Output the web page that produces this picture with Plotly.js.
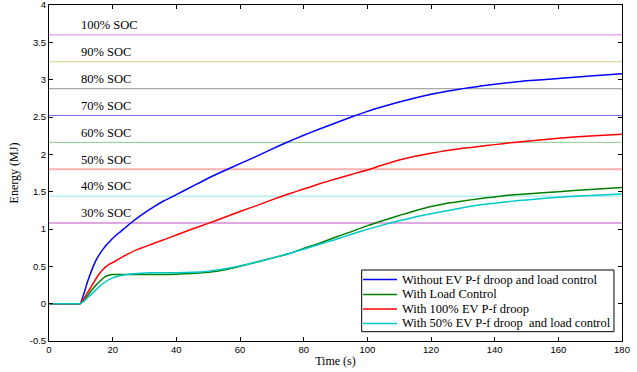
<!DOCTYPE html>
<html><head><meta charset="utf-8">
<script src="https://cdn.plot.ly/plotly-3.0.1.min.js"></script>
<style>body{margin:0;background:#fff}#c{width:637px;height:372px}</style>
</head><body><div id="c"></div>
<script>
const socLabels = ["100% SOC","90% SOC","80% SOC","70% SOC","60% SOC","50% SOC","40% SOC","30% SOC"];
const socLevels = [3.6,3.24,2.88,2.52,2.16,1.8,1.44,1.08];
const socColors = ["#e080e8","#d8d080","#a8a8a8","#7070f0","#90c890","#ffb0b0","#90e8e8","#e0a8e0"];
const socWidths = [1,1,1.2,1,1,2,1,2];

const seriesNames = ["Without EV P-f droop and load control","With Load Control","With 100% EV P-f droop","With 50% EV P-f droop  and load control"];
const seriesColors = ["#0000ff","#008000","#ff0000","#00c8c8"];

const tBlue = [0,9,9.8,11,12,13,14,15,16,17,18,19,20,22,24,26,28,30,33,36,40,45,50,55,60,65,70,75,80,85,90,95,100,105,110,115,120,125,130,135,140,150,160,170,180];
const eBlue = [0,0,0,0.14,0.28,0.40,0.51,0.60,0.67,0.73,0.785,0.83,0.875,0.95,1.02,1.09,1.155,1.215,1.30,1.375,1.46,1.57,1.68,1.78,1.875,1.97,2.07,2.165,2.255,2.34,2.42,2.50,2.575,2.64,2.70,2.755,2.805,2.845,2.88,2.91,2.94,2.985,3.015,3.05,3.08];

const tGreen = [0,9,9.8,11,12,13,14,15,16,17,18,19,20,25,30,35,40,45,50,55,60,65,70,75,80,85,90,95,100,105,110,115,120,125,130,135,140,145,150,160,170,180];
const eGreen = [0,0,0,0.05,0.10,0.16,0.21,0.26,0.30,0.34,0.37,0.385,0.39,0.39,0.39,0.39,0.395,0.405,0.42,0.45,0.50,0.555,0.61,0.665,0.74,0.81,0.89,0.965,1.045,1.115,1.18,1.245,1.30,1.345,1.375,1.405,1.43,1.455,1.47,1.50,1.53,1.556];

const tRed = [0,9,9.8,11,12,13,14,15,16,17,18,19,20,22,25,28,30,33,36,40,45,50,55,60,65,70,75,80,85,90,95,100,105,110,115,120,125,130,135,140,145,150,160,170,180];
const eRed = [0,0,0,0.07,0.14,0.21,0.28,0.35,0.41,0.46,0.50,0.53,0.55,0.60,0.67,0.73,0.76,0.81,0.855,0.92,1.0,1.075,1.155,1.235,1.31,1.39,1.465,1.535,1.605,1.67,1.73,1.79,1.86,1.925,1.975,2.015,2.05,2.08,2.105,2.13,2.155,2.175,2.215,2.245,2.27];

const tCyan = [0,9,9.8,11,12,13,14,15,16,17,18,19,20,21,22,23,25,28,30,35,40,45,50,55,60,65,70,75,80,85,90,95,100,105,110,115,120,125,130,135,140,145,150,160,170,180];
const eCyan = [0,0,0,0.035,0.075,0.115,0.155,0.195,0.235,0.27,0.30,0.325,0.345,0.36,0.37,0.38,0.395,0.405,0.41,0.415,0.415,0.42,0.435,0.465,0.505,0.555,0.61,0.665,0.73,0.795,0.86,0.93,0.995,1.055,1.11,1.16,1.205,1.245,1.285,1.32,1.345,1.37,1.39,1.425,1.45,1.47];

const xTicks = [0,20,40,60,80,100,120,140,160,180];
const yTicks = [-0.5,0,0.5,1,1.5,2,2.5,3,3.5,4];

const serif = "Liberation Serif, Times New Roman, serif";
const sans = "Liberation Sans, Arial, sans-serif";

const traces = [];
socLevels.forEach((lv,i)=>{
  traces.push({x:[0,180],y:[lv,lv],mode:'lines',line:{color:socColors[i],width:socWidths[i]},showlegend:false,hoverinfo:'skip'});
});
const data = [[tBlue,eBlue],[tGreen,eGreen],[tRed,eRed],[tCyan,eCyan]];
data.forEach((d,i)=>{
  traces.push({x:d[0],y:d[1],mode:'lines',name:seriesNames[i],showlegend:false,line:{color:seriesColors[i],width:1.5,shape:'spline',smoothing:0.5}});
});

const annotations = socLabels.map((s,i)=>({x:9.3,y:socLevels[i]+0.13,xref:'x',yref:'y',text:s,showarrow:false,xanchor:'left',yanchor:'middle',font:{family:serif,size:12.5,color:'#000'}}));

// compact legend box
const shapes = [{type:'rect',xref:'paper',yref:'paper',x0:0.5457,x1:0.986,y0:0.0277,y1:0.2113,line:{color:'#000',width:1},fillcolor:'#fff',layer:'above'}];
const rowY = [0.1830,0.1384,0.0952,0.0521];
seriesNames.forEach((n,i)=>{
  shapes.push({type:'line',xref:'paper',yref:'paper',x0:0.548,x1:0.6073,y0:rowY[i],y1:rowY[i],line:{color:seriesColors[i],width:1.5},layer:'above'});
  annotations.push({xref:'paper',yref:'paper',x:0.6126,y:rowY[i],text:n,showarrow:false,xanchor:'left',yanchor:'middle',font:{family:serif,size:12.5,color:'#000'}});
});

const axisCommon = {showline:true,linecolor:'#000',linewidth:1,mirror:'ticks',ticks:'inside',ticklen:4,tickcolor:'#000',showgrid:false,zeroline:false,ticklabeloverflow:'allow',tickfont:{family:sans,size:9.5,color:'#000'}};

const layout = {
  width:637,height:372,
  margin:{l:49,r:15,t:5,b:31},
  paper_bgcolor:'#fff',plot_bgcolor:'#fff',
  showlegend:false,
  xaxis:Object.assign({},axisCommon,{range:[0,180],tickvals:xTicks,ticktext:xTicks.map(String),title:{text:'Time (s)',font:{family:serif,size:12,color:'#000'},standoff:2}}),
  yaxis:Object.assign({},axisCommon,{range:[-0.5,4],tickvals:yTicks,ticktext:yTicks.map(String),title:{text:'Energy (MJ)',font:{family:serif,size:12,color:'#000'},standoff:8}}),
  annotations:annotations,
  shapes:shapes
};
Plotly.newPlot('c',traces,layout,{staticPlot:true,displayModeBar:false});
</script></body></html>
